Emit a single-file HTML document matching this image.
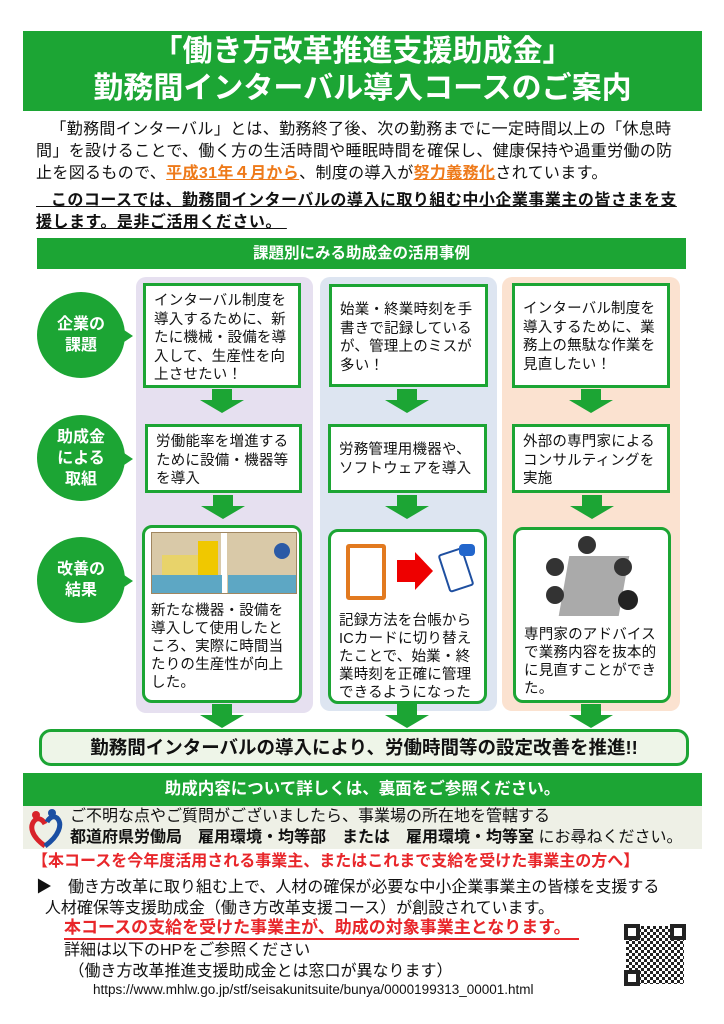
<!DOCTYPE html>
<html><head><meta charset="utf-8"><style>
*{margin:0;padding:0;box-sizing:border-box}
body{width:724px;height:1024px;background:#fff;position:relative;overflow:hidden;font-family:"Liberation Sans","Noto Sans CJK JP",sans-serif;color:#111}
.a{position:absolute}
.nw{white-space:nowrap}
.g{background:#1ca534;color:#fff}
.box{position:absolute;background:#fff;border:3px solid #1ca534;font-size:14.5px;line-height:18.5px;padding:6px 2px 0 8px;letter-spacing:.2px}
.rb{border-radius:10px}
.circ{position:absolute;width:88px;height:86px;border-radius:50%;background:#1ca534;color:#fff;font-weight:bold;font-size:16px;line-height:21px;display:flex;align-items:center;justify-content:center;text-align:center}
.circ:after{content:"";position:absolute;right:-8px;top:36px;border-left:12px solid #1ca534;border-top:8px solid transparent;border-bottom:8px solid transparent}
.arr{position:absolute;width:44px;height:24px}
.arr:before{content:"";position:absolute;left:12px;top:0;width:20px;height:11px;background:#1ca534}
.arr:after{content:"";position:absolute;left:0;top:11px;border-top:13px solid #1ca534;border-left:22px solid transparent;border-right:22px solid transparent}
</style></head><body>
<div class="a g" style="left:23px;top:31px;width:679px;height:80px;text-align:center;font-weight:bold;font-size:30px;line-height:37px;padding-top:2px">「働き方改革推進支援助成金」<br>勤務間インターバル導入コースのご案内</div>
<div class="a nw" style="left:36px;top:119px;font-size:16px;letter-spacing:.35px;line-height:22px">&nbsp;&nbsp;&nbsp;「勤務間インターバル」とは、勤務終了後、次の勤務までに一定時間以上の「休息時<br>間」を設けることで、働く方の生活時間や睡眠時間を確保し、健康保持や過重労働の防<br>止を図るもので、<b style="color:#ee7a1a;text-decoration:underline">平成31年４月から</b>、制度の導入が<b style="color:#ee7a1a;text-decoration:underline">努力義務化</b>されています。</div>
<div class="a nw" style="left:36px;top:190px;font-size:16px;line-height:22px;font-weight:bold;letter-spacing:.5px;text-decoration:underline">&nbsp;&nbsp;&nbsp;このコースでは、勤務間インターバルの導入に取り組む中小企業事業主の皆さまを支<br>援します。是非ご活用ください。&nbsp;</div>
<div class="a g" style="left:37px;top:238px;width:649px;height:31px;text-align:center;font-weight:bold;font-size:15.5px;line-height:31px">課題別にみる助成金の活用事例</div>

<div class="a" style="left:136px;top:277px;width:177px;height:436px;background:#e6e0f0;border-radius:10px"></div>
<div class="a" style="left:320px;top:277px;width:177px;height:434px;background:#dde5f1;border-radius:10px"></div>
<div class="a" style="left:502px;top:277px;width:178px;height:434px;background:#fbe2d0;border-radius:10px"></div>

<div class="circ" style="left:37px;top:292px">企業の<br>課題</div>
<div class="circ" style="left:37px;top:415px">助成金<br>による<br>取組</div>
<div class="circ" style="left:37px;top:537px">改善の<br>結果</div>

<div class="box" style="left:143px;top:283px;width:158px;height:105px">インターバル制度を導入するために、新たに機械・設備を導入して、生産性を向上させたい！</div>
<div class="box" style="left:329px;top:284px;width:159px;height:103px;padding-top:14px">始業・終業時刻を手書きで記録しているが、管理上のミスが多い！</div>
<div class="box" style="left:512px;top:283px;width:158px;height:105px;padding-top:14px">インターバル制度を導入するために、業務上の無駄な作業を見直したい！</div>

<div class="arr" style="left:200px;top:389px"></div><div class="arr" style="left:385px;top:389px"></div><div class="arr" style="left:569px;top:389px"></div>

<div class="box" style="left:145px;top:424px;width:157px;height:69px">労働能率を増進するために設備・機器等を導入</div>
<div class="box" style="left:328px;top:424px;width:159px;height:69px;padding-top:14px">労務管理用機器や、ソフトウェアを導入</div>
<div class="box" style="left:512px;top:424px;width:158px;height:69px">外部の専門家によるコンサルティングを実施</div>

<div class="arr" style="left:201px;top:495px"></div><div class="arr" style="left:385px;top:495px"></div><div class="arr" style="left:570px;top:495px"></div>

<div class="box rb" style="left:142px;top:525px;width:160px;height:178px;padding:4px 2px 0 6px;line-height:18px"><div style="height:62px;width:146px;background:linear-gradient(90deg,#d9c9a8 0 48%,#fff 48% 52%,#d9c9a8 52%);border:1px solid #a08660;margin-bottom:8px;position:relative;overflow:hidden"><div style="position:absolute;left:10px;top:22px;width:38px;height:24px;background:#e8d36a"></div><div style="position:absolute;left:46px;top:8px;width:20px;height:34px;background:#f0c800"></div><div style="position:absolute;left:0;top:42px;width:70px;height:20px;background:#5da7c4"></div><div style="position:absolute;left:76px;top:42px;width:70px;height:20px;background:#5da7c4"></div><div style="position:absolute;left:122px;top:10px;width:16px;height:16px;border-radius:50%;background:#2b5aa6"></div></div>新たな機器・設備を導入して使用したところ、実際に時間当たりの生産性が向上した。</div>
<div class="box rb" style="left:328px;top:529px;width:159px;height:175px;padding:6px 2px 0 8px;line-height:18px"><div style="height:68px;position:relative;margin-bottom:6px"><div style="position:absolute;left:7px;top:6px;width:40px;height:56px;background:#fff;border:4px solid #e27a20;border-radius:3px"></div><div style="position:absolute;left:58px;top:22px;width:20px;height:22px;background:#e00"></div><div style="position:absolute;left:76px;top:14px;border-left:18px solid #e00;border-top:19px solid transparent;border-bottom:19px solid transparent"></div><div style="position:absolute;left:104px;top:12px;width:26px;height:40px;background:#fff;border:2px solid #1e4fa0;border-radius:3px;transform:rotate(-18deg)"></div><div style="position:absolute;left:120px;top:6px;width:16px;height:12px;background:#2266cc;border-radius:4px"></div></div>記録方法を台帳からICカードに切り替えたことで、始業・終業時刻を正確に管理できるようになった</div>
<div class="box rb" style="left:513px;top:527px;width:158px;height:176px;padding:6px 2px 0 8px;line-height:18px"><div style="height:82px;position:relative;margin-bottom:8px"><div style="position:absolute;left:40px;top:20px;width:60px;height:60px;background:#aaa;transform:skewX(-10deg)"></div><div style="position:absolute;left:54px;top:0;width:18px;height:18px;border-radius:50%;background:#333"></div><div style="position:absolute;left:22px;top:22px;width:18px;height:18px;border-radius:50%;background:#333"></div><div style="position:absolute;left:90px;top:22px;width:18px;height:18px;border-radius:50%;background:#333"></div><div style="position:absolute;left:22px;top:50px;width:18px;height:18px;border-radius:50%;background:#333"></div><div style="position:absolute;left:94px;top:54px;width:20px;height:20px;border-radius:50%;background:#222"></div></div>専門家のアドバイスで業務内容を抜本的に見直すことができた。</div>

<div class="arr" style="left:200px;top:704px"></div><div class="arr" style="left:385px;top:704px"></div><div class="arr" style="left:569px;top:704px"></div>

<div class="a" style="left:39px;top:729px;width:650px;height:37px;border:3px solid #1ca534;border-radius:12px;background:#eef5e8;text-align:center;font-weight:bold;font-size:18.5px;line-height:31px">勤務間インターバルの導入により、労働時間等の設定改善を推進!!</div>
<div class="a g" style="left:23px;top:773px;width:679px;height:33px;text-align:center;font-weight:bold;font-size:16.5px;line-height:33px">助成内容について詳しくは、裏面をご参照ください。</div>
<div class="a" style="left:23px;top:806px;width:679px;height:43px;background:#eef0e6"></div>
<div class="a" style="left:27px;top:808px;width:36px;height:40px"><svg width="36" height="40"><path d="M18 38 C4 28 2 18 8 12 C12 9 16 12 18 16" fill="none" stroke="#d8232a" stroke-width="5"/><path d="M18 38 C32 28 36 16 30 10 C26 7 22 10 20 14" fill="none" stroke="#1b4fa3" stroke-width="5"/><circle cx="9" cy="7" r="4" fill="#d8232a"/><circle cx="25" cy="5" r="4" fill="#1b4fa3"/></svg></div>
<div class="a nw" style="left:70px;top:806px;font-size:16px;line-height:21px">ご不明な点やご質問がございましたら、事業場の所在地を管轄する<br><b>都道府県労働局　雇用環境・均等部　または　雇用環境・均等室</b> にお尋ねください。</div>
<div class="a nw" style="left:32px;top:851px;font-size:16px;line-height:22px;font-weight:bold;color:#e8262a">【本コースを今年度活用される事業主、またはこれまで支給を受けた事業主の方へ】</div>
<div class="a nw" style="left:36px;top:877px;font-size:16px;line-height:21px">▶　働き方改革に取り組む上で、人材の確保が必要な中小企業事業主の皆様を支援する<br>&nbsp;&nbsp;人材確保等支援助成金（働き方改革支援コース）が創設されています。</div>
<div class="a nw" style="left:64px;top:917px;font-size:17px;line-height:21px;font-weight:bold;color:#e8262a;border-bottom:2px solid #e8262a;padding-right:8px">本コースの支給を受けた事業主が、助成の対象事業主となります。</div>
<div class="a nw" style="left:64px;top:940px;font-size:16px;line-height:21px">詳細は以下のHPをご参照ください<br>&nbsp;（働き方改革推進支援助成金とは窓口が異なります）</div>
<div class="a nw" style="left:93px;top:981px;font-size:13.5px;line-height:18px">https://www.mhlw.go.jp/stf/seisakunitsuite/bunya/0000199313_00001.html</div>
<div class="a" style="left:624px;top:924px;width:62px;height:62px;background:repeating-conic-gradient(#222 0 25%,#fff 0 50%) 0 0/6px 6px;border:2px solid #fff"></div>
<div class="a" style="left:624px;top:924px;width:16px;height:16px;border:4px solid #222;background:#fff"></div>
<div class="a" style="left:670px;top:924px;width:16px;height:16px;border:4px solid #222;background:#fff"></div>
<div class="a" style="left:624px;top:970px;width:16px;height:16px;border:4px solid #222;background:#fff"></div>
</body></html>
